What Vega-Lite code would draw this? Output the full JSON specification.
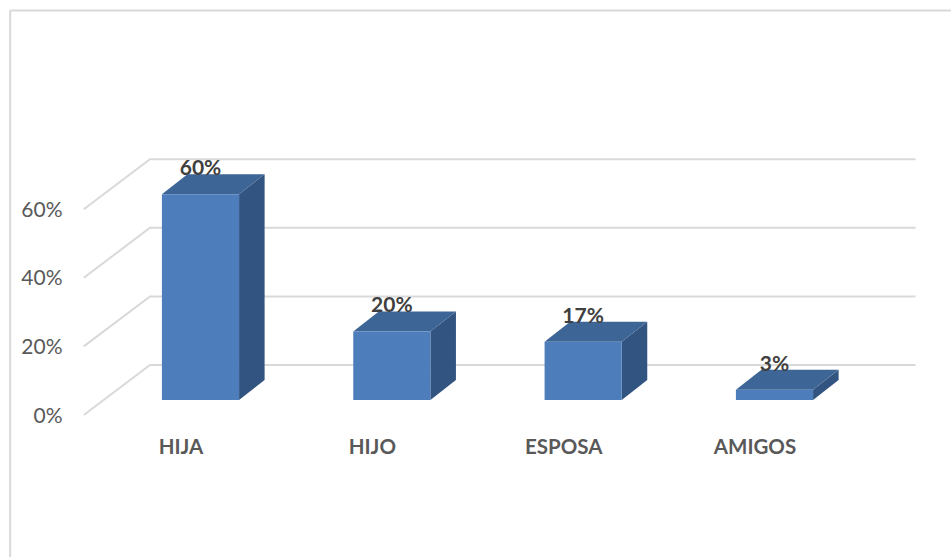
{
  "$schema": "https://vega.github.io/schema/vega-lite/v6.json",
  "width": 951,
  "height": 557,
  "autosize": "none",
  "padding": 0,
  "background": "#ffffff",
  "config": {"view": {"stroke": null}, "font": "Lato"},
  "datasets": {
    "parentesco": [
      {"parentesco": "HIJA", "valor": 60},
      {"parentesco": "HIJO", "valor": 20},
      {"parentesco": "ESPOSA", "valor": 17},
      {"parentesco": "AMIGOS", "valor": 3}
    ],
    "rejilla": [{"valor": 0}, {"valor": 20}, {"valor": 40}, {"valor": 60}],
    "marco": [{"marco": "borde"}]
  },
  "data": {"name": "parentesco"},
  "transform": [
    {"calculate": "indexof(['HIJA','HIJO','ESPOSA','AMIGOS'],datum.parentesco)", "as": "orden"}
  ],
  "layer": [
    {
      "description": "Borde superior del marco, con los ejes",
      "data": {"name": "marco"},
      "mark": {"type": "rule", "color": "#d9d9d9", "strokeWidth": 2},
      "encoding": {
        "x": {
          "datum": -0.9948,
          "type": "quantitative",
          "scale": {"domain": [-1.0479, 3.9226], "nice": false, "zero": false},
          "axis": {
            "orient": "bottom",
            "offset": -110,
            "values": [0, 1, 2, 3],
            "labelExpr": "['HIJA','HIJO','ESPOSA','AMIGOS'][datum.value]",
            "title": null,
            "domain": false,
            "ticks": false,
            "grid": false,
            "labelFlush": false,
            "labelOverlap": false,
            "labelOffset": -20,
            "labelPadding": 0,
            "labelBaseline": "middle",
            "labelFont": "Lato",
            "labelFontSize": 20.5,
            "labelFontWeight": "bold",
            "labelColor": "#595959"
          }
        },
        "x2": {"datum": 3.9226},
        "y": {
          "datum": 113.56,
          "type": "quantitative",
          "scale": {"domain": [-45.77, 116.62], "nice": false, "zero": false},
          "axis": {
            "orient": "left",
            "offset": -62,
            "values": [0, 20, 40, 60],
            "labelExpr": "datum.value+'%'",
            "title": null,
            "domain": false,
            "ticks": false,
            "grid": false,
            "labelFlush": false,
            "labelOverlap": false,
            "labelOffset": 16,
            "labelPadding": 0,
            "labelFont": "Lato",
            "labelFontSize": 21,
            "labelColor": "#595959"
          }
        }
      }
    },
    {
      "description": "Borde izquierdo del marco",
      "data": {"name": "marco"},
      "mark": {"type": "rule", "color": "#d9d9d9", "strokeWidth": 2},
      "encoding": {
        "x": {"datum": -0.9948, "type": "quantitative"},
        "y": {"datum": 113.56, "type": "quantitative"},
        "y2": {"datum": -45.77}
      }
    },
    {
      "description": "Rejilla en perspectiva: suelo oblicuo y pared del fondo",
      "data": {"name": "rejilla"},
      "transform": [
        {"calculate": "[0,1,2]", "as": "t"},
        {"flatten": ["t"]},
        {"calculate": "[-0.61,-0.264,3.737][datum.t]", "as": "gx"},
        {"calculate": "datum.valor+[-4.37,10.2,10.2][datum.t]", "as": "gy"}
      ],
      "mark": {"type": "line", "color": "#d9d9d9", "strokeWidth": 2, "interpolate": "linear"},
      "encoding": {
        "x": {"field": "gx", "type": "quantitative"},
        "y": {"field": "gy", "type": "quantitative"},
        "detail": {"field": "valor"},
        "order": {"field": "t"}
      }
    },
    {
      "description": "Cara lateral de cada barra",
      "transform": [
        {"calculate": "[0,1]", "as": "t"},
        {"flatten": ["t"]},
        {"calculate": "datum.orden+0.2016+datum.t*0.1335", "as": "sx"},
        {"calculate": "datum.t*5.83", "as": "s0"},
        {"calculate": "datum.valor+datum.t*5.83", "as": "s1"}
      ],
      "mark": {"type": "area", "color": "#325480", "opacity": 1},
      "encoding": {
        "x": {"field": "sx", "type": "quantitative"},
        "y": {"field": "s1", "type": "quantitative", "stack": null},
        "y2": {"field": "s0"},
        "detail": {"field": "parentesco"}
      }
    },
    {
      "description": "Cara superior de cada barra",
      "transform": [
        {"calculate": "[0,1,2,3]", "as": "t"},
        {"flatten": ["t"]},
        {"calculate": "datum.orden-0.2016+[0,0.1335,0.4032,0.5367][datum.t]", "as": "tx"},
        {"calculate": "datum.valor+[0,0,0,5.83][datum.t]", "as": "t0"},
        {"calculate": "datum.valor+[0,5.83,5.83,5.83][datum.t]", "as": "t1"}
      ],
      "mark": {"type": "area", "color": "#3d6595", "opacity": 1},
      "encoding": {
        "x": {"field": "tx", "type": "quantitative"},
        "y": {"field": "t1", "type": "quantitative", "stack": null},
        "y2": {"field": "t0"},
        "detail": {"field": "parentesco"}
      }
    },
    {
      "description": "Cara frontal de cada barra",
      "transform": [
        {"calculate": "datum.orden-0.2016", "as": "f0"},
        {"calculate": "datum.orden+0.2016", "as": "f1"}
      ],
      "mark": {"type": "rect", "color": "#4d7ebb"},
      "encoding": {
        "x": {"field": "f0", "type": "quantitative"},
        "x2": {"field": "f1"},
        "y": {"field": "valor", "type": "quantitative"},
        "y2": {"datum": 0}
      }
    },
    {
      "description": "Etiquetas de porcentaje sobre cada barra",
      "transform": [{"calculate": "datum.valor+'%'", "as": "etiqueta"}],
      "mark": {"type": "text", "font": "Lato", "fontSize": 21, "fontWeight": "bold", "color": "#404040", "dy": -25, "baseline": "middle", "align": "center"},
      "encoding": {
        "x": {"field": "orden", "type": "quantitative"},
        "y": {"field": "valor", "type": "quantitative"},
        "text": {"field": "etiqueta"}
      }
    }
  ]
}
